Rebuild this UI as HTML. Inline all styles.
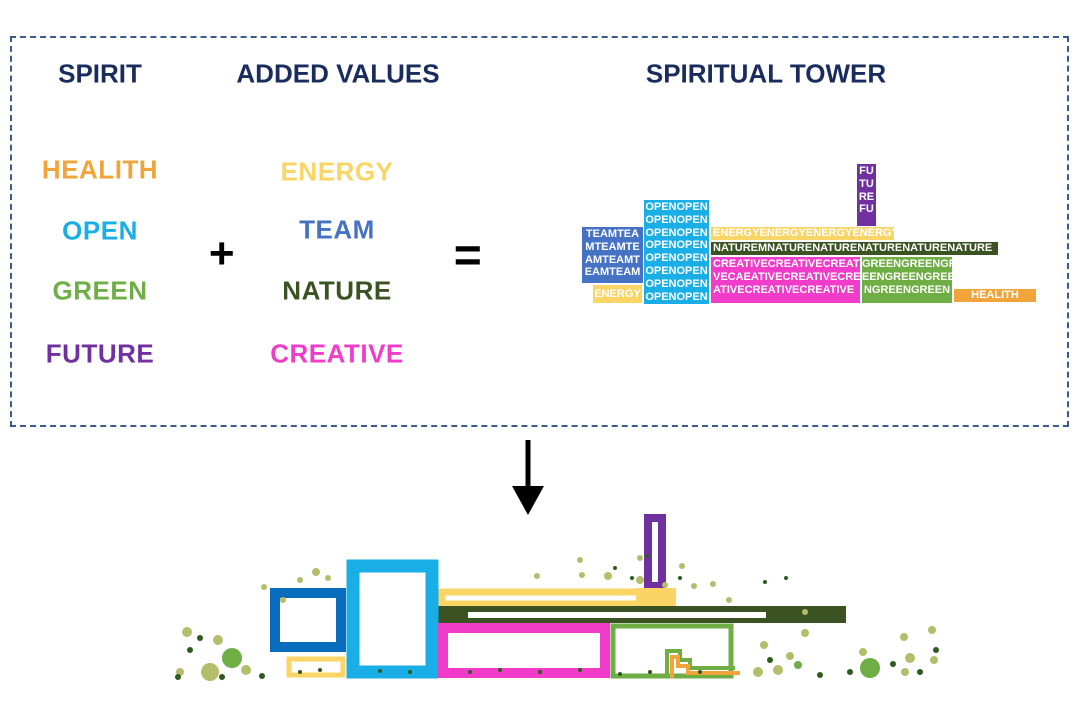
<!DOCTYPE html>
<html><head><meta charset="utf-8"><style>
*{margin:0;padding:0;box-sizing:border-box}
body{width:1080px;height:710px;background:#fff;position:relative;overflow:hidden;font-family:"Liberation Sans",sans-serif;font-weight:bold}
.t{position:absolute;transform:translate(-50%,-50%);white-space:nowrap;font-size:26px;letter-spacing:0.5px}
.h{color:#1a2b5e;font-size:26px;letter-spacing:0}
.b{position:absolute;color:#fff;font-size:11px;line-height:12.8px;overflow:hidden;white-space:nowrap;text-align:center}
</style></head><body>
<div style="position:absolute;left:10px;top:36px;width:1059px;height:391px;border:2px dashed #3a5a90"></div>
<div class="t h" style="left:100px;top:74px">SPIRIT</div>
<div class="t h" style="left:338px;top:74px">ADDED VALUES</div>
<div class="t h" style="left:766px;top:74px">SPIRITUAL TOWER</div>
<div class="t" style="left:100px;top:170px;color:#f0a43a">HEALITH</div>
<div class="t" style="left:100px;top:231px;color:#1aaee6">OPEN</div>
<div class="t" style="left:100px;top:291px;color:#6fad45">GREEN</div>
<div class="t" style="left:100px;top:354px;color:#7030a0">FUTURE</div>
<div class="t" style="left:337px;top:172px;color:#fbd466">ENERGY</div>
<div class="t" style="left:337px;top:230px;color:#4672c4">TEAM</div>
<div class="t" style="left:337px;top:291px;color:#3b5323">NATURE</div>
<div class="t" style="left:337px;top:354px;color:#f03cc8">CREATIVE</div>
<div class="t" style="left:222px;top:254px;font-size:44px;color:#000">+</div>
<div class="t" style="left:468px;top:256px;font-size:48px;color:#000">=</div>

<div class="b" style="left:857px;top:164px;width:19px;height:62px;background:#7030a0;padding-top:1px">FU<br>TU<br>RE<br>FU</div>
<div class="b" style="left:644px;top:200px;width:65px;height:104px;background:#1aaee6;padding-top:1px">OPENOPEN<br>OPENOPEN<br>OPENOPEN<br>OPENOPEN<br>OPENOPEN<br>OPENOPEN<br>OPENOPEN<br>OPENOPEN</div>
<div class="b" style="left:582px;top:227px;width:61px;height:56px;background:#4672c4;padding-top:1px">TEAMTEA<br>MTEAMTE<br>AMTEAMT<br>EAMTEAM</div>
<div class="b" style="left:593px;top:285px;width:49px;height:18px;background:#fbd466;line-height:18px">ENERGY</div>
<div class="b" style="left:711px;top:227px;width:183px;height:13px;background:#fbd466;line-height:13px;text-align:left;padding-left:2px">ENERGYENERGYENERGYENERGY</div>
<div class="b" style="left:711px;top:242px;width:287px;height:13px;background:#3b5323;line-height:13px;text-align:left;padding-left:2px">NATUREMNATURENATURENATURENATURENATURE</div>
<div class="b" style="left:711px;top:257px;width:149px;height:46px;background:#f03cc8;padding-top:1px;text-align:left;padding-left:2px">CREATIVECREATIVECREATI<br>VECAEATIVECREATIVECRE<br>ATIVECREATIVECREATIVE</div>
<div class="b" style="left:862px;top:257px;width:90px;height:46px;background:#6fad45;padding-top:1px">GREENGREENGR<br>EENGREENGREE<br>NGREENGREEN</div>
<div class="b" style="left:954px;top:289px;width:82px;height:13px;background:#f0a43a;line-height:13px">HEALITH</div>

<svg style="position:absolute;left:0;top:0" width="1080" height="710">
<line x1="528" y1="440" x2="528" y2="490" stroke="#000" stroke-width="5"/>
<polygon points="512,486 544,486 528,515" fill="#000"/>
<rect x="648" y="518" width="14" height="68" fill="none" stroke="#7030a0" stroke-width="8"/>
<rect x="442" y="592" width="230" height="12" fill="none" stroke="#fbd466" stroke-width="7"/>
<rect x="636" y="588" width="40" height="18" fill="#fbd466"/>
<rect x="438" y="606" width="408" height="17" fill="#3b5323"/>
<rect x="468" y="612" width="298" height="6" fill="#fff"/>
<rect x="275" y="593" width="66" height="54" fill="none" stroke="#0a6cbd" stroke-width="10"/>
<rect x="289" y="659" width="54" height="16" fill="none" stroke="#fbd466" stroke-width="5"/>
<rect x="353" y="566" width="79" height="106" fill="none" stroke="#1aaee6" stroke-width="13"/>
<rect x="443" y="628" width="162" height="45" fill="none" stroke="#f03cc8" stroke-width="10"/>
<rect x="613" y="626" width="118" height="50" fill="none" stroke="#6fad45" stroke-width="5"/>
<polyline points="667,678 667,651 680,651 680,660 690,660 690,668 735,668" fill="none" stroke="#6fad45" stroke-width="4"/>
<polyline points="672,678 672,657 678,657 678,666 688,666 688,673 740,673" fill="none" stroke="#f0a43a" stroke-width="4"/>
<g fill="#b4bd6a">
<circle cx="187" cy="632" r="5"/><circle cx="210" cy="672" r="9"/><circle cx="218" cy="640" r="5"/><circle cx="246" cy="670" r="5"/><circle cx="316" cy="572" r="4"/><circle cx="300" cy="580" r="3"/><circle cx="328" cy="578" r="3"/><circle cx="264" cy="587" r="3"/><circle cx="283" cy="600" r="3"/><circle cx="580" cy="560" r="3"/><circle cx="537" cy="576" r="3"/><circle cx="582" cy="575" r="3"/><circle cx="608" cy="576" r="4"/><circle cx="640" cy="558" r="3"/><circle cx="682" cy="566" r="3"/><circle cx="694" cy="586" r="3"/><circle cx="713" cy="584" r="3"/><circle cx="729" cy="600" r="3"/><circle cx="805" cy="612" r="3"/><circle cx="805" cy="633" r="4"/><circle cx="764" cy="645" r="4"/><circle cx="790" cy="656" r="4"/><circle cx="778" cy="670" r="5"/><circle cx="863" cy="652" r="4"/><circle cx="904" cy="637" r="4"/><circle cx="910" cy="658" r="5"/><circle cx="932" cy="630" r="4"/><circle cx="934" cy="660" r="4"/><circle cx="905" cy="672" r="4"/><circle cx="180" cy="672" r="4"/><circle cx="758" cy="672" r="5"/><circle cx="640" cy="580" r="4"/><circle cx="665" cy="585" r="3"/></g>
<g fill="#6fad45"><circle cx="232" cy="658" r="10"/><circle cx="870" cy="668" r="10"/><circle cx="798" cy="665" r="4"/></g>
<g fill="#2f5a1e"><circle cx="178" cy="677" r="3"/><circle cx="190" cy="650" r="3"/><circle cx="200" cy="638" r="3"/><circle cx="222" cy="677" r="3"/><circle cx="262" cy="676" r="3"/><circle cx="300" cy="672" r="2"/><circle cx="320" cy="670" r="2"/><circle cx="380" cy="671" r="2"/><circle cx="410" cy="672" r="2"/><circle cx="470" cy="672" r="2"/><circle cx="500" cy="670" r="2"/><circle cx="540" cy="672" r="2"/><circle cx="580" cy="670" r="2"/><circle cx="620" cy="674" r="2"/><circle cx="650" cy="672" r="2"/><circle cx="700" cy="672" r="2"/><circle cx="615" cy="568" r="2"/><circle cx="632" cy="578" r="2"/><circle cx="647" cy="556" r="2"/><circle cx="680" cy="578" r="2"/><circle cx="765" cy="582" r="2"/><circle cx="786" cy="578" r="2"/><circle cx="770" cy="660" r="3"/><circle cx="820" cy="675" r="3"/><circle cx="850" cy="672" r="3"/><circle cx="893" cy="664" r="3"/><circle cx="920" cy="672" r="3"/><circle cx="936" cy="650" r="3"/></g>
</svg>
</body></html>
